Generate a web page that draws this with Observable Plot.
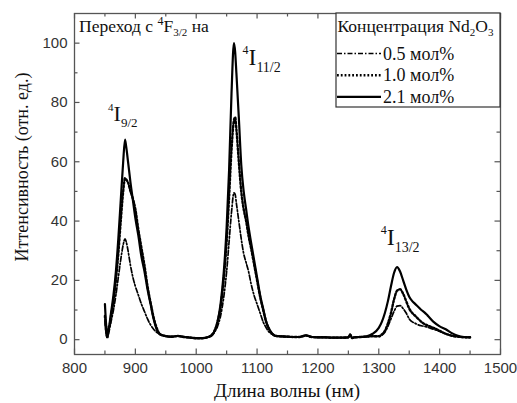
<!DOCTYPE html>
<html><head><meta charset="utf-8">
<script src="https://cdn.jsdelivr.net/npm/d3@7"></script>
<script src="https://cdn.jsdelivr.net/npm/@observablehq/plot@0.6"></script>
<style>body{margin:0;background:#fff;} svg{display:block}</style>
</head><body><div id="chart"></div>
<script>
const wavelength = [
  850, 852, 854, 856, 858, 860, 864, 868, 872, 876,
  880, 883, 885, 888, 892, 896, 900, 905, 910, 915,
  920, 925, 930, 935, 940, 950, 960, 970, 980, 990,
  1000, 1010, 1020, 1025, 1030, 1035, 1040, 1045, 1050, 1054,
  1058, 1062, 1064, 1066, 1070, 1074, 1078, 1082, 1086, 1090,
  1095, 1100, 1105, 1110, 1115, 1120, 1125, 1130, 1140, 1150,
  1160, 1170, 1180, 1190, 1200, 1210, 1220, 1230, 1240, 1250,
  1253, 1256, 1260, 1270, 1280, 1290, 1300, 1305, 1310, 1315,
  1320, 1325, 1330, 1335, 1340, 1345, 1350, 1355, 1360, 1365,
  1370, 1375, 1380, 1390, 1400, 1410, 1420, 1430, 1440, 1450
];
const conc05 = [
  6, 2, 0.5, 2, 4, 6, 10, 15, 21, 27,
  32, 34, 33, 30, 25, 21, 18, 15, 12, 9.5,
  7, 5, 3.5, 2.5, 1.8, 1.2, 1.0, 1.2, 0.9, 0.7,
  0.5, 0.5, 0.9, 1.2, 2.5, 4.5, 8, 14, 23, 33,
  43, 49.5, 49, 46, 40, 34, 29, 26, 23, 19,
  15, 12, 9, 6, 4, 2.5, 1.8, 1.3, 1.1, 1.0,
  0.9, 0.9, 1.4, 0.9, 0.8, 0.8, 0.7, 0.7, 0.7, 0.8,
  1.6, 0.6, 0.8, 0.9, 1.0, 1.1, 1.0, 1.5, 2.5, 4.5,
  7, 9.5, 11.3, 11.5, 10.5, 9, 7, 6, 5.5, 5,
  4.7, 4.5, 4.2, 3.5, 2.8, 2, 1.4, 1, 0.8, 0.8
];
const conc10 = [
  8, 3, 1, 4, 5, 8, 13, 20, 29, 40,
  50, 54.5, 54, 53, 50, 47.5, 44, 37, 31, 25,
  18, 12.5, 7.5, 4, 2, 1.2, 1.0, 1.2, 0.9, 0.7,
  0.5, 0.5, 0.9, 1.5, 3, 6, 11, 20, 33, 48,
  64, 74, 75, 71, 60, 50, 44, 40, 35, 31,
  25.5, 20, 14.5, 10, 6, 3.5, 2, 1.3, 1.1, 1.0,
  0.9, 0.9, 1.4, 0.9, 0.8, 0.8, 0.7, 0.7, 0.7, 0.8,
  1.7, 0.6, 0.8, 0.9, 1.0, 1.2, 1.2, 1.8, 3, 5.5,
  9, 13.5, 16.5, 17, 15.5, 13, 10.5, 9, 8, 7,
  6, 5.3, 4.8, 4, 3, 2, 1.3, 1, 0.8, 0.8
];
const conc21 = [
  12, 5, 2, 3, 6, 9, 15, 23, 34, 47,
  60, 67.5, 65, 60, 53, 47, 41, 35, 28, 23,
  17, 12, 7, 3.5, 1.8, 1.2, 1.0, 1.3, 0.9, 0.7,
  0.5, 0.5, 0.9, 1.5, 2.8, 6, 12, 22, 38, 57,
  83, 100, 97, 90, 75, 59, 50, 44, 38, 33,
  27, 21, 15, 10.5, 6, 3.5, 2, 1.3, 1.1, 1.0,
  0.9, 0.9, 1.5, 0.9, 0.8, 0.8, 0.7, 0.7, 0.7, 0.8,
  1.8, 0.5, 0.8, 0.9, 1.1, 2, 4, 6, 9, 13,
  18, 22.5, 24.5, 23, 20, 17, 14.5, 13, 12, 11,
  10, 9.2, 8.2, 6, 4.5, 3.5, 2.2, 1.3, 0.9, 0.8
];
const seriesNames = ["0.5 мол%", "1.0 мол%", "2.1 мол%"];
const xTicksMajor = [800, 900, 1000, 1100, 1200, 1300, 1400, 1500];
const xTicksMinor = [850, 950, 1050, 1150, 1250, 1350, 1450];
const yTicksMajor = [0, 20, 40, 60, 80, 100];
const yTicksMinor = [10, 30, 50, 70, 90];
const xTitle = "Длина волны (нм)";
const yTitle = "Иттенсивность (отн. ед.)";
const legendTitle = ["Концентрация Nd", "2", "O", "3"];
const transitionText = ["Переход с ", "4", "F", "3/2", " на"];
const peakLabelSubs = ["9/2", "11/2", "13/2"];

const W = 517, H = 403;
const mL = 74, mR = 17, mT = 13, mB = 49;
const serif = "'Liberation Serif', 'Times New Roman', serif";
const sans = "'Liberation Sans', Arial, sans-serif";
const dashes = ["5,2,1.5,2", "1.8,2", null];
const widths = [1.7, 2.4, 2.2];

const seriesData = [conc05, conc10, conc21].map(vals =>
  wavelength.map((w, i) => ({w, v: vals[i]})));

const yDom = [-5, 110], xDom = [800, 1500];
const pxY = (yDom[1] - yDom[0]) / (H - mT - mB);
const pxX = (xDom[1] - xDom[0]) / (W - mL - mR);
const tickCol = "#555";

const marks = [];
for (const [ticks, len] of [[xTicksMajor, 5.5], [xTicksMinor, 3.5]]) {
  marks.push(Plot.ruleX(ticks, {x: d => d, y1: yDom[0], y2: yDom[0] + len * pxY, stroke: tickCol, strokeWidth: 1.2}));
  marks.push(Plot.ruleX(ticks, {x: d => d, y1: yDom[1], y2: yDom[1] - len * pxY, stroke: tickCol, strokeWidth: 1.2}));
}
for (const [ticks, len] of [[yTicksMajor, 5.5], [yTicksMinor, 3.5]]) {
  marks.push(Plot.ruleY(ticks, {y: d => d, x1: xDom[0], x2: xDom[0] + len * pxX, stroke: tickCol, strokeWidth: 1.2}));
  marks.push(Plot.ruleY(ticks, {y: d => d, x1: xDom[1], x2: xDom[1] - len * pxX, stroke: tickCol, strokeWidth: 1.2}));
}
seriesData.forEach((d, i) => {
  marks.push(Plot.line(d, {x: "w", y: "v", stroke: "#000", strokeWidth: widths[i],
    strokeDasharray: dashes[i] || undefined, curve: "monotone-x"}));
});

const plot = Plot.plot({
  width: W, height: H,
  marginLeft: mL, marginRight: mR, marginTop: mT, marginBottom: mB,
  x: {domain: xDom},
  y: {domain: yDom},
  style: {fontFamily: sans, fontSize: "15px", color: "#333", background: "#fff"},
  marks: [
    Plot.axisX(xTicksMajor, {tickSize: 0, tickPadding: 8, label: null, fontSize: 15, fill: "#333", tickFormat: d3.format("d")}),
    Plot.axisY(yTicksMajor, {tickSize: 0, tickPadding: 7, label: null, fontSize: 15, fill: "#333", tickFormat: d3.format("d")}),
    ...marks,
    Plot.frame({stroke: "#555", strokeWidth: 1.3})
  ]
});
document.getElementById("chart").appendChild(plot);

const svg = d3.select(plot);
const sx = plot.scale("x"), sy = plot.scale("y");
const X = v => sx.apply(v), Y = v => sy.apply(v);

function serifText(sel, size, anchor) {
  return sel.attr("font-family", serif).style("font-family", serif).style("font-size", size + "px")
    .style("text-anchor", anchor || "start").style("fill", "#111");
}
function rich(x, y, parts) {
  const t = serifText(svg.append("text").attr("x", x).attr("y", y), parts[0].size, "start");
  for (const p of parts) t.append("tspan").style("font-family", serif).style("font-size", p.size + "px").attr("dy", p.dy || 0).text(p.text);
  return t;
}

// Axis titles
serifText(svg.append("text").attr("x", (mL + W - mR) / 2).attr("y", 397), 19, "middle").text(xTitle);
serifText(svg.append("text").attr("transform", `translate(28,167) rotate(-90)`), 18, "middle").text(yTitle);

// Transition header
rich(mL + 5, 31.5, [
  {text: transitionText[0], size: 17.5},
  {text: transitionText[1], size: 12, dy: -7},
  {text: transitionText[2], size: 17.5, dy: 7},
  {text: transitionText[3], size: 11, dy: 4},
  {text: transitionText[4], size: 17.5, dy: -4}
]);

// Peak labels
const peakPos = [[856, 73.6, 22], [1077, 92.5, 23.5], [1304, 31.8, 24]];
peakPos.forEach(([nm, v, fs], i) => {
  rich(X(nm), Y(v), [
    {text: "4", size: Math.round(fs * 0.52), dy: -Math.round(fs * 0.45)},
    {text: "I", size: fs, dy: Math.round(fs * 0.45)},
    {text: peakLabelSubs[i], size: Math.round(fs * 0.58), dy: Math.round(fs * 0.28)}
  ]);
});

// Legend
const lx0 = 336, lx1 = W - mR, ly0 = mT, ly1 = 107;
svg.append("rect").attr("x", lx0).attr("y", ly0).attr("width", lx1 - lx0).attr("height", ly1 - ly0)
  .attr("fill", "#fff").attr("stroke", "#333").attr("stroke-width", 1.2);
rich(lx0 + 1.5, 31.5, [
  {text: legendTitle[0], size: 17.5},
  {text: legendTitle[1], size: 11, dy: 4},
  {text: legendTitle[2], size: 17.5, dy: -4},
  {text: legendTitle[3], size: 11, dy: 4}
]);
seriesNames.forEach((name, i) => {
  const cy = 53.5 + i * 21.7;
  svg.append("line").attr("x1", lx0 + 1).attr("x2", 381).attr("y1", cy).attr("y2", cy)
    .attr("stroke", "#000").attr("stroke-width", widths[i])
    .attr("stroke-dasharray", dashes[i]);
  serifText(svg.append("text").attr("x", 383).attr("y", cy + 6), 18, "start").text(name);
});
</script>
</body></html>
